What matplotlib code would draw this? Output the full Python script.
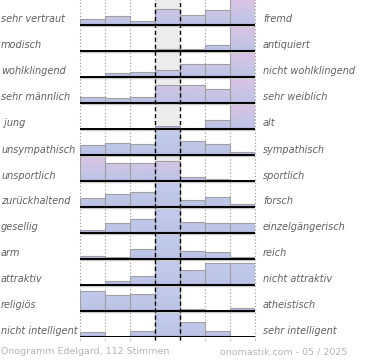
import numpy as np
import matplotlib
matplotlib.use("Agg")
import matplotlib.pyplot as plt
from matplotlib.patches import Polygon, Rectangle
from matplotlib.colors import to_rgb

left_labels = ["sehr vertraut", "modisch", "wohlklingend", "sehr männlich", " jung",
               "unsympathisch", "unsportlich", "zurückhaltend", "gesellig", "arm",
               "attraktiv", "religiös", "nicht intelligent"]
right_labels = ["fremd", "antiquiert", "nicht wohlklingend", "sehr weiblich", "alt",
                "sympathisch", "sportlich", "forsch", "einzelgängerisch", "reich",
                "nicht attraktiv", "atheistisch", "sehr intelligent"]
values = [
    [0.25, 0.35, 0.17, 0.61, 0.40, 0.59, 1.00],
    [0.00, 0.00, 0.00, 0.08, 0.08, 0.22, 1.00],
    [0.00, 0.16, 0.19, 0.28, 0.49, 0.49, 1.00],
    [0.23, 0.19, 0.23, 0.71, 0.68, 0.52, 1.00],
    [0.00, 0.00, 0.00, 0.10, 0.04, 0.33, 1.00],
    [0.39, 0.45, 0.41, 1.00, 0.54, 0.41, 0.13],
    [1.00, 0.68, 0.68, 0.77, 0.14, 0.08, 0.04],
    [0.33, 0.50, 0.58, 1.00, 0.28, 0.39, 0.10],
    [0.10, 0.39, 0.54, 1.00, 0.43, 0.37, 0.37],
    [0.13, 0.06, 0.37, 1.00, 0.32, 0.26, 0.09],
    [0.00, 0.17, 0.36, 1.00, 0.59, 0.85, 0.85],
    [0.77, 0.60, 0.64, 1.00, 0.09, 0.05, 0.13],
    [0.18, 0.00, 0.22, 1.00, 0.57, 0.24, 0.00],
]
pink_rows = [True, True, True, True, True, False, True, False, False, False, False, False, False]
footer_left = "Onogramm Edelgard, 112 Stimmen"
footer_right = "onomastik.com - 05 / 2025"

W, H = 370, 360
fig = plt.figure(figsize=(W / 100, H / 100), dpi=100)
nrows = len(values)
row_px = 26.0
base_px = 337.0
ax = fig.add_axes([80 / W, (H - base_px) / H, 175 / W, base_px / H])
ax.set_xlim(0, 7)
ax.axis("off")

# center gray band
ax.add_patch(Rectangle((3, -0.1), 1, 20, facecolor="#ececec", edgecolor="none", zorder=0, clip_on=True))
# dotted grid
for xv in [0, 1, 2, 5, 6, 7]:
    ax.plot([xv, xv], [-0.1, 20], color="#909090", lw=0.8, ls=(0, (1, 2)), zorder=1, clip_on=False)

blue_bot = np.array(to_rgb("#bcc4e6"))
blue_top = np.array(to_rgb("#c4cbec"))
pink_top = np.array(to_rgb("#dcc4e4"))
dark = np.array(to_rgb("#9c8ccc"))

n = 100
for i, (vals, pink) in enumerate(zip(values, pink_rows)):
    b = nrows - 1 - i
    top_col = pink_top if pink else blue_top
    t = np.linspace(0, 1, n)[:, None]
    grad = blue_bot[None, :] * (1 - t) + top_col[None, :] * t
    strip = np.clip(1 - t / 0.09, 0, 1) ** 1.2
    grad = grad * (1 - strip * 0.7) + dark[None, :] * strip * 0.7
    img = grad[:, None, :].repeat(2, axis=1)
    verts = [(0, b)]
    for k, v in enumerate(vals):
        verts += [(k, b + v), (k + 1, b + v)]
    verts += [(7, b)]
    poly = Polygon(verts, closed=True, facecolor="none", edgecolor="none", transform=ax.transData)
    ax.add_patch(poly)
    im = ax.imshow(img, extent=(0, 7, b, b + 1), origin="lower", aspect="auto",
                   interpolation="bilinear", zorder=2)
    im.set_clip_path(poly)
    for k, v in enumerate(vals):
        if v > 0:
            ax.add_patch(Rectangle((k, b), 1, v, fill=False, edgecolor="#a0a0a0", lw=0.8, zorder=3))
    ax.plot([0, 7], [b - 0.05, b - 0.05], color="#c8c8c8", lw=1.0, zorder=4, solid_capstyle="butt")
    ax.plot([0, 7], [b, b], color="black", lw=1.4, zorder=5, solid_capstyle="butt")

# dashed center lines
for xv in [3, 4]:
    ax.plot([xv, xv], [-0.1, 20], color="black", lw=1.0, ls=(0, (3, 2)), zorder=4, clip_on=False)

ax.set_ylim(0, base_px / row_px)

for i in range(nrows):
    yb = 25 + i * row_px - 5.5
    fig.text(1 / W, 1 - yb / H, left_labels[i], ha="left", va="center", fontsize=7,
             style="italic", color="#606060")
    fig.text(263 / W, 1 - yb / H, right_labels[i], ha="left", va="center", fontsize=7,
             style="italic", color="#606060")

fig.text(1 / W, 1 - 352 / H, footer_left, ha="left", va="center", fontsize=6.8, color="#b4b4b4")
fig.text(220 / W, 1 - 352 / H, footer_right, ha="left", va="center", fontsize=6.8, color="#b4b4b4")

fig.savefig("out.png", dpi=100)
